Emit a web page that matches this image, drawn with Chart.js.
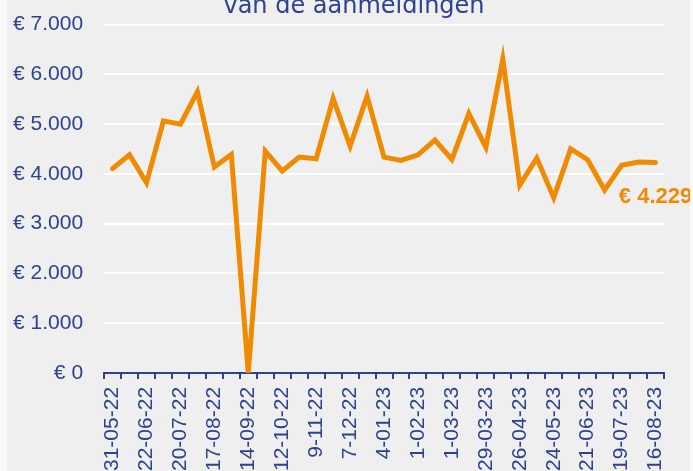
<!DOCTYPE html>
<html>
<head>
<meta charset="utf-8">
<script src="https://cdn.jsdelivr.net/npm/chart.js@4"></script>
<style>
  html, body { margin: 0; padding: 0; overflow: hidden; background: #f9f9f9; }
  #wrap { position: absolute; left: 7px; top: -9px; width: 683px; height: 488px; background: #efefef; }
  #titel { position: absolute; left: 0; top: -7px; width: 708px; text-align: center;
           font: 24px/24px "DejaVu Sans", sans-serif; color: #2e4290; white-space: nowrap; }
</style>
</head>
<body>
<div id="wrap"><canvas id="lijn"></canvas></div>
<div id="titel"></div>
<script>
const datums = ["31-05-22","8-06-22","22-06-22","6-07-22","20-07-22","3-08-22","17-08-22","31-08-22",
  "14-09-22","28-09-22","12-10-22","26-10-22","9-11-22","23-11-22","7-12-22","21-12-22",
  "4-01-23","18-01-23","1-02-23","15-02-23","1-03-23","15-03-23","29-03-23","12-04-23",
  "26-04-23","10-05-23","24-05-23","7-06-23","21-06-23","5-07-23","19-07-23","2-08-23","16-08-23"];
const bedragen = [4105,4383,3820,5066,5000,5650,4139,4391,0,4457,4060,4337,4304,5517,4560,5563,
  4337,4272,4383,4681,4291,5212,4536,6304,3775,4317,3523,4503,4284,3676,4172,4238,4229];
const titel = "van de aanmeldingen";

const blauw = '#2e4290';
const oranje = '#f08a00';

document.getElementById('titel').textContent = titel;

function euro(v){
    return '€ ' + String(v).replace(/\B(?=(\d{3})+(?!\d))/g, '.');
}

// label met de laatste waarde onder het eindpunt
const eindLabel = {
    id: 'eindLabel',
    afterDatasetsDraw(chart){
        const meta = chart.getDatasetMeta(0);
        const p = meta.data[meta.data.length - 1];
        const ctx = chart.ctx;
        ctx.save();
        ctx.font = 'bold 22px "Liberation Sans", Arial, sans-serif';
        ctx.fillStyle = oranje;
        ctx.textAlign = 'center';
        ctx.textBaseline = 'middle';
        ctx.fillText(euro(bedragen[bedragen.length - 1]), p.x, p.y + 34);
        ctx.restore();
    }
};

const grafiek = new Chart(document.getElementById('lijn'), {
    type: 'line',
    data: {
        labels: datums,
        datasets: [{
            data: bedragen,
            borderColor: oranje,
            backgroundColor: oranje,
            borderWidth: 5,
            pointRadius: 0,
            tension: 0,
            borderCapStyle: 'round',
            fill: false,
            clip: {left: 5, right: 5, top: 5, bottom: 0}
        }]
    },
    options: {
        responsive: true,
        maintainAspectRatio: false,
        animation: false,
        layout: { padding: { left: -15, right: 26, top: 30, bottom: 0 } },
        plugins: {
            legend: { display: false },
            tooltip: { enabled: false },
            title: { display: false }
        },
        scales: {
            x: {
                offset: true,
                grid: {
                    offset: true,
                    drawOnChartArea: false,
                    drawTicks: true,
                    tickLength: 6,
                    color: blauw,
                    lineWidth: 2
                },
                border: { display: true, color: blauw, width: 2 },
                ticks: {
                    autoSkip: false,
                    minRotation: 90,
                    maxRotation: 90,
                    padding: 8,
                    color: blauw,
                    font: { family: '"Liberation Sans", Arial, sans-serif', size: 21 },
                    callback: function(val, i){ return i % 2 === 0 ? this.getLabelForValue(val) : ''; }
                }
            },
            y: {
                min: 0,
                max: 7000,
                ticks: {
                    stepSize: 1000,
                    padding: 21,
                    color: blauw,
                    font: { family: '"Liberation Sans", Arial, sans-serif', size: 21 },
                    callback: v => euro(v)
                },
                grid: { color: '#ffffff', lineWidth: 2, drawTicks: false },
                border: { display: false }
            }
        }
    },
    plugins: [eindLabel]
});
</script>
</body>
</html>
